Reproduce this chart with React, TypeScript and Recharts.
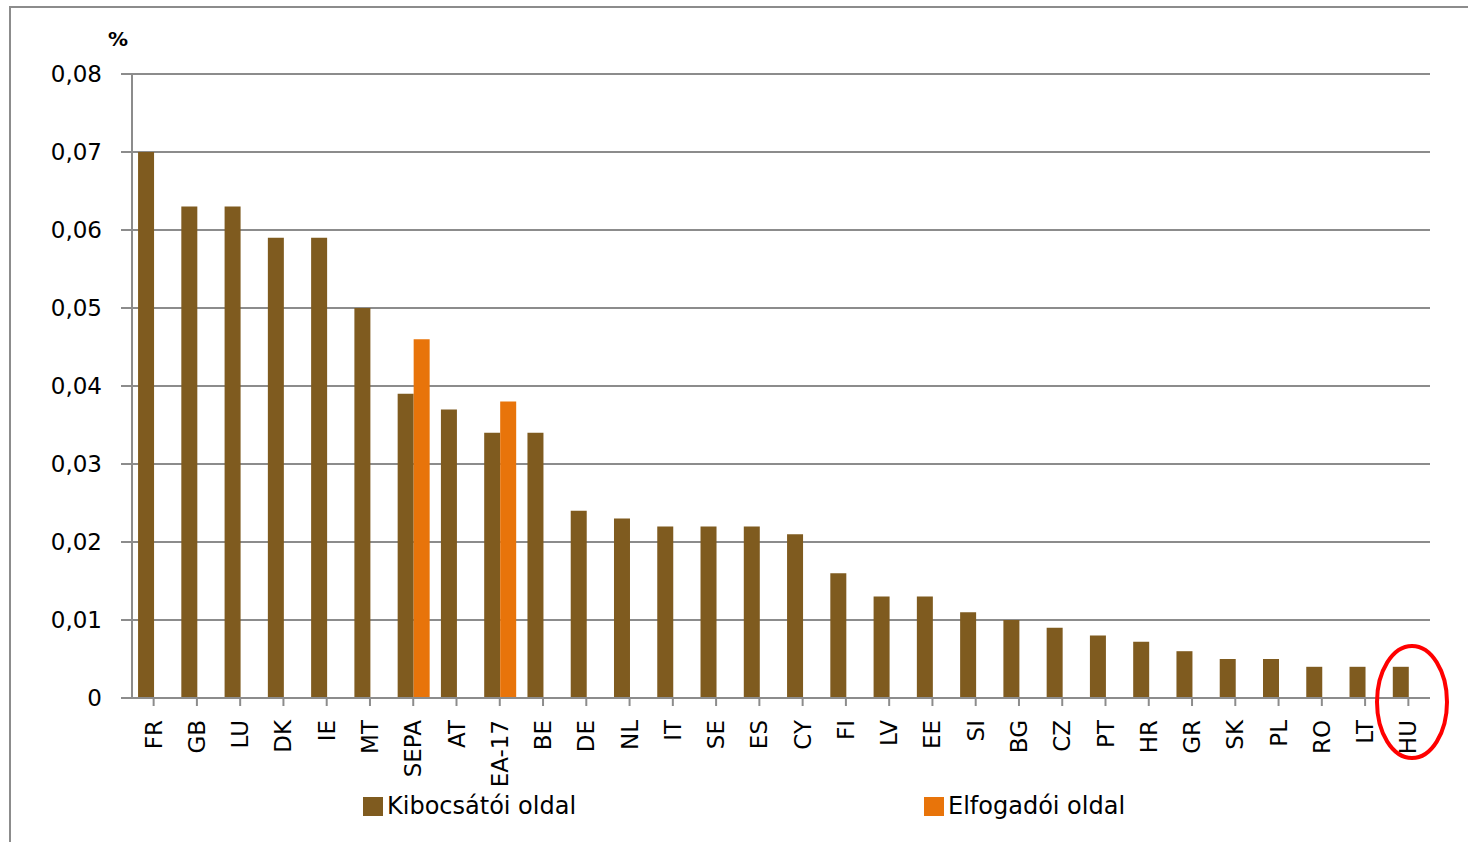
import { Bar, BarChart, CartesianGrid, XAxis, YAxis } from "recharts";

const countries = [
  "FR", "GB", "LU", "DK", "IE", "MT", "SEPA", "AT", "EA-17", "BE",
  "DE", "NL", "IT", "SE", "ES", "CY", "FI", "LV", "EE", "SI",
  "BG", "CZ", "PT", "HR", "GR", "SK", "PL", "RO", "LT", "HU",
];

const issuerSide = [
  0.07, 0.063, 0.063, 0.059, 0.059, 0.05, 0.039, 0.037, 0.034, 0.034,
  0.024, 0.023, 0.022, 0.022, 0.022, 0.021, 0.016, 0.013, 0.013, 0.011,
  0.01, 0.009, 0.008, 0.0072, 0.006, 0.005, 0.005, 0.004, 0.004, 0.004,
];

const acquirerSide: (number | null)[] = [
  null, null, null, null, null, null, 0.046, null, 0.038, null,
  null, null, null, null, null, null, null, null, null, null,
  null, null, null, null, null, null, null, null, null, null,
];

const yTicks = [0, 0.01, 0.02, 0.03, 0.04, 0.05, 0.06, 0.07, 0.08];

const data = countries.map((c, i) => ({
  country: c,
  issuer: issuerSide[i],
  acquirer: acquirerSide[i],
}));

const BROWN = "#7f5b1f";
const ORANGE = "#e8740a";
const GRID = "#8c8c8c";
const FONT = "'DejaVu Sans', sans-serif";

function fmt(v: number) {
  return v === 0 ? "0" : v.toFixed(2).replace(".", ",");
}

function CountryTick({ x, y, payload }: any) {
  return (
    <g transform={`translate(${x},${y})`}>
      <text
        transform="rotate(-90)"
        x={-12}
        y={0}
        textAnchor="end"
        dominantBaseline="central"
        fontSize={23}
        fontFamily={FONT}
        fill="#000"
      >
        {payload.value}
      </text>
    </g>
  );
}

// legend sits below the axis labels, two items far apart like the original
function LegendBox() {
  const items = [
    { label: "Kibocsátói oldal", color: BROWN, left: 363 },
    { label: "Elfogadói oldal", color: ORANGE, left: 924 },
  ];
  return (
    <div style={{ position: "absolute", left: 0, top: 792, width: 1468, height: 30, fontFamily: FONT, fontSize: 24 }}>
      {items.map((it) => (
        <div
          key={it.label}
          style={{ position: "absolute", left: it.left, top: 0, display: "flex", alignItems: "center", whiteSpace: "nowrap" }}
        >
          <span style={{ width: 20, height: 19, background: it.color, display: "inline-block", marginRight: 4 }} />
          <span>{it.label}</span>
        </div>
      ))}
    </div>
  );
}

export default function App() {
  return (
    <div style={{ position: "absolute", left: 0, top: 0, width: 1468, height: 842, background: "#fff" }}>
      <BarChart
        width={1468}
        height={842}
        data={data}
        margin={{ top: 74, right: 38, bottom: 0, left: 0 }}
        barCategoryGap="14%"
        barGap={0}
      >
        <CartesianGrid vertical={false} stroke={GRID} strokeWidth={2} />
        <XAxis
          dataKey="country"
          interval={0}
          tick={<CountryTick />}
          tickSize={8}
          axisLine={{ stroke: GRID, strokeWidth: 2 }}
          tickLine={{ stroke: GRID, strokeWidth: 2 }}
          height={144}
        />
        <YAxis
          width={132}
          domain={[0, 0.08]}
          ticks={yTicks}
          tickFormatter={fmt}
          tickSize={11}
          tickMargin={19}
          axisLine={{ stroke: GRID, strokeWidth: 2 }}
          tickLine={{ stroke: GRID, strokeWidth: 2 }}
          tick={{ fontSize: 23, fontFamily: FONT, fill: "#000" }}
        />
        <Bar dataKey="issuer" name="Kibocsátói oldal" fill={BROWN} isAnimationActive={false} />
        <Bar dataKey="acquirer" name="Elfogadói oldal" fill={ORANGE} isAnimationActive={false} />
      </BarChart>
      <LegendBox />
      <svg
        width={1468}
        height={842}
        style={{ position: "absolute", left: 0, top: 0, pointerEvents: "none" }}
      >
        <polyline points="10,842 10,7 1468,7" fill="none" stroke={GRID} strokeWidth={2} />
        <text x={108} y={46} fontSize={20} fontWeight="bold" fontFamily={FONT} fill="#000">
          %
        </text>
        <ellipse cx={1412} cy={702} rx={35} ry={56} fill="none" stroke="#ff0000" strokeWidth={4} />
      </svg>
    </div>
  );
}
